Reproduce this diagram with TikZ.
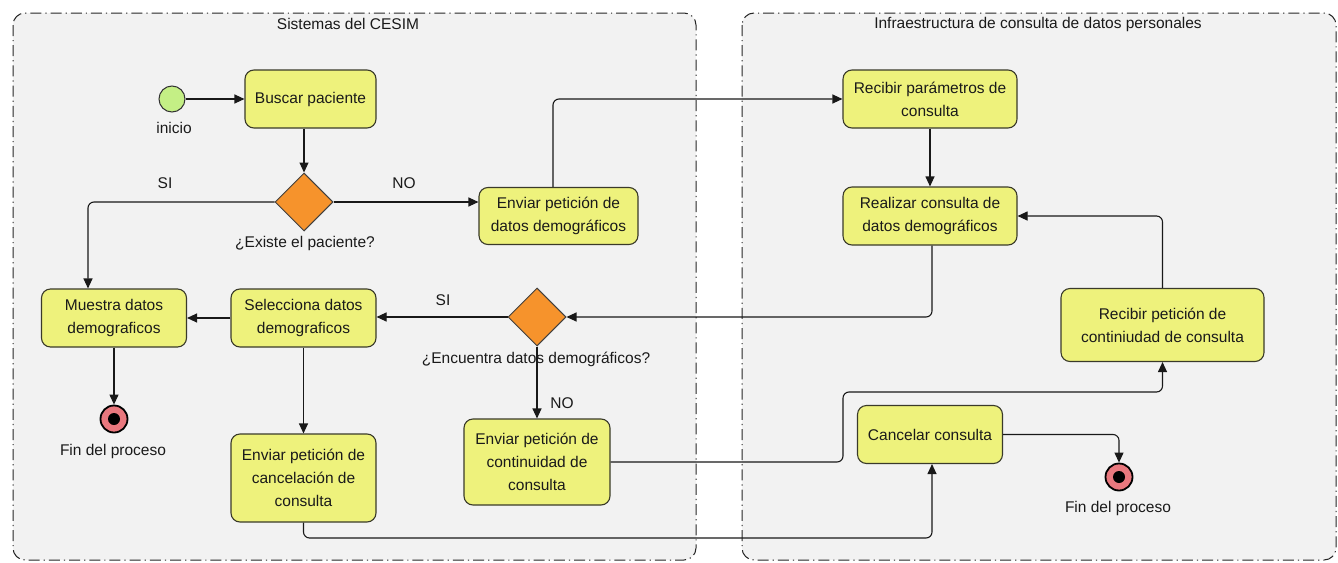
\documentclass[tikz,border=0pt]{standalone}
\usepackage{fontspec}
\setmainfont{Liberation Sans}
\usetikzlibrary{arrows.meta,shapes.geometric,calc}
\definecolor{boxfill}{HTML}{EEF27C}
\definecolor{boxline}{HTML}{3A3A2A}
\definecolor{diafill}{HTML}{F6932C}
\definecolor{startfill}{HTML}{C4EF85}
\definecolor{endfill}{HTML}{E9787E}
\definecolor{panelfill}{HTML}{F2F2F2}
\definecolor{txt}{HTML}{1A1A1A}
\begin{document}
\begin{tikzpicture}[x=1pt,y=-1pt,
  every node/.style={text=txt,font=\fontsize{15.5}{23}\selectfont},
  panel/.style={draw=black!85,fill=panelfill,line width=1pt,rounded corners=12pt,
    dash pattern=on 11pt off 4pt on 1.2pt off 4pt},
  actbox/.style={draw=boxline,fill=boxfill,line width=1.1pt,rounded corners=9pt,
    align=center,inner sep=2pt},
  decis/.style={diamond,aspect=1,draw=black!75,fill=diafill,line width=1pt,
    minimum width=58pt,minimum height=58pt,inner sep=0pt},
  startnode/.style={circle,draw=black!80,fill=startfill,line width=1pt,minimum size=26pt,inner sep=0pt},
  endnode/.style={circle,draw=black,fill=endfill,line width=1.8pt,minimum size=27pt,inner sep=0pt,
    path picture={\fill[black] (path picture bounding box.center) circle (6pt);}},
  lbl/.style={inner sep=0pt},
  arr/.style={draw=black!90,line width=1.1pt,rounded corners=6pt,
    -{Triangle[length=10pt,width=9pt]}}
]
\useasboundingbox (0,0) rectangle (1338,562);
\fill[white] (0,0) rectangle (1338,562);

% panels
\draw[panel] (13,13) rectangle (696,560);
\draw[panel] (742,13) rectangle (1336,560);
\node[lbl] (t1) at (348,24) {Sistemas del CESIM};
\node[lbl] (t2) at (1038,24) {Infraestructura de consulta de datos personales};

% nodes left
\node[startnode] (ini) at (172,99) {};
\node[lbl] (inil) at (174,128) {inicio};
\node[actbox,minimum width=131pt,minimum height=58pt] (buscar) at (310.5,99) {Buscar paciente};
\node[decis] (d1) at (304,202) {};
\node[lbl] (d1l) at (305,243) {¿Existe el paciente?};
\node[actbox,minimum width=159pt,minimum height=57pt] (enviar) at (558.5,216) {Enviar petición de\\datos demográficos};
\node[actbox,minimum width=145pt,minimum height=58pt] (muestra) at (114,318) {Muestra datos\\demograficos};
\node[actbox,minimum width=145pt,minimum height=58pt] (selec) at (303.5,318) {Selecciona datos\\demograficos};
\node[decis] (d2) at (537,317) {};
\node[lbl] (d2l) at (536,359) {¿Encuentra datos demográficos?};
\node[endnode] (fin1) at (114,419) {};
\node[lbl] (fin1l) at (113,451) {Fin del proceso};
\node[actbox,minimum width=145pt,minimum height=88pt] (cancel) at (303.5,478) {Enviar petición de\\cancelación de\\consulta};
\node[actbox,minimum width=146pt,minimum height=86pt] (conti) at (537,462) {Enviar petición de\\continuidad de\\consulta};

% nodes right
\node[actbox,minimum width=174pt,minimum height=58pt] (rparam) at (930,99) {Recibir parámetros de\\consulta};
\node[actbox,minimum width=174pt,minimum height=58pt] (realizar) at (930,216) {Realizar consulta de\\datos demográficos};
\node[actbox,minimum width=203pt,minimum height=73pt] (rpet) at (1162.5,325) {Recibir petición de\\continiudad de consulta};
\node[actbox,minimum width=145pt,minimum height=58pt] (cancelar) at (930,434.5) {Cancelar consulta};
\node[endnode] (fin2) at (1119,477) {};
\node[lbl] (fin2l) at (1118,508) {Fin del proceso};

% branch labels
\node[lbl] (si1) at (165,183) {SI};
\node[lbl] (no1) at (404,183) {NO};
\node[lbl] (si2) at (443,300) {SI};
\node[lbl] (no2) at (562,403) {NO};

\coordinate (k1) at (843,392);
\coordinate (k2) at (600,538);

% connectors
\draw[arr] (ini) -- (buscar.west);
\draw[arr] (buscar.south -| d1.north) -- (d1.north);
\draw[arr] (d1.west) -| ([xshift=-26pt]muestra.north);
\draw[arr] (d1.east) -- (d1.east -| enviar.west);
\draw[arr] ([xshift=-5.5pt]enviar.north) |- (rparam.west);
\draw[arr] (rparam.south) -- (realizar.north);
\draw[arr] ([xshift=2pt]realizar.south) |- (d2.east);
\draw[arr] (d2.west) -- (d2.west -| selec.east);
\draw[arr] (selec.west) -- (muestra.east);
\draw[arr] (muestra.south) -- (fin1.north);
\draw[arr] (selec.south) -- (cancel.north);
\draw[arr] (d2.south) -- (conti.north);
\draw[arr] (conti.east) -| (k1) -| (rpet.south);
\draw[arr] (cancel.south) |- (k2) -| ([xshift=2pt]cancelar.south);
\draw[arr] (rpet.north) |- (realizar.east);
\draw[arr] (cancelar.east) -| (fin2.north);
\end{tikzpicture}
\end{document}
